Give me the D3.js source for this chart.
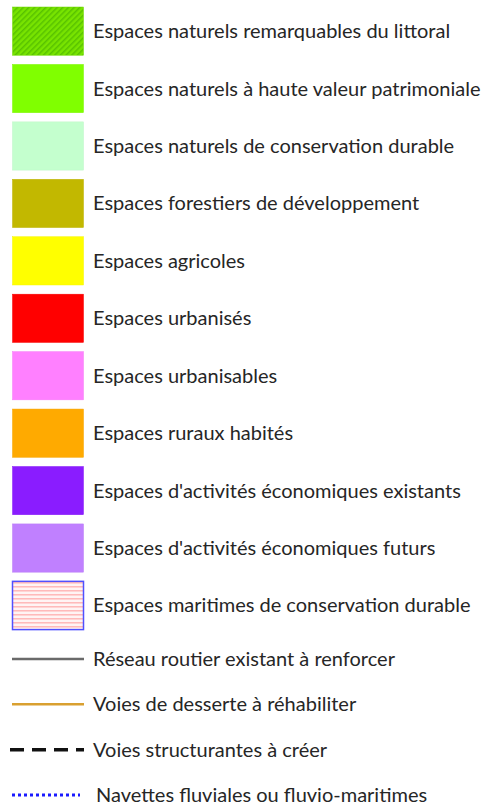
<!DOCTYPE html>
<html>
<head>
<meta charset="utf-8">
<script src="https://cdn.jsdelivr.net/npm/d3@7"></script>
<style>
  body { margin: 0; background: #fff; }
  text { font-family: Lato, "Open Sans", sans-serif; fill: #262626; }
</style>
</head>
<body>
<script>
var areaLabels = ['Espaces naturels remarquables du littoral','Espaces naturels à haute valeur patrimoniale','Espaces naturels de conservation durable','Espaces forestiers de développement','Espaces agricoles','Espaces urbanisés','Espaces urbanisables','Espaces ruraux habités',"Espaces d'activités économiques existants","Espaces d'activités économiques futurs",'Espaces maritimes de conservation durable'];
var areaFills = ['url(#hatchGreen)','#80ff00','#c4ffce','#c2b800','#ffff00','#ff0000','#ff80ff','#ffaa00','#8a1cff','#c080ff','url(#hatchSea)'];

var lineLabels = ['Réseau routier existant à renforcer','Voies de desserte à réhabiliter','Voies structurantes à créer','Navettes fluviales ou fluvio-maritimes'];
var lineColors = ['#6a6a6a','#d9a030','#111111','#1a1aff'];
var lineDashes = [null, null, '14,8', '3,3'];

const width = 493;
const height = 806;
const fontSize = 20;

const svg = d3.select("body").append("svg").attr("width", width).attr("height", height);

// patterns
const defs = svg.append("defs");
const pg = defs.append("pattern").attr("id","hatchGreen").attr("patternUnits","userSpaceOnUse")
    .attr("width",4).attr("height",4).attr("patternTransform","rotate(45)");
pg.append("rect").attr("width",4).attr("height",4).attr("fill","#78e400");
pg.append("rect").attr("width",1.5).attr("height",4).attr("fill","#58c200");

const ps = defs.append("pattern").attr("id","hatchSea").attr("patternUnits","userSpaceOnUse")
    .attr("width",8).attr("height",4);
ps.append("rect").attr("width",8).attr("height",4).attr("fill","#fff4f4");
ps.append("rect").attr("y",1).attr("width",8).attr("height",1).attr("fill","#ff9a9a");

// swatch rows
const y = d3.scaleBand()
    .domain(areaLabels)
    .range([7, 7 + 56.6 * areaLabels.length])
    .paddingInner(0.16)
    .paddingOuter(0)
    .align(0);

const rows = svg.append("g").attr("class","areas")
    .selectAll("g").data(areaLabels).join("g")
    .attr("transform", d => `translate(0, ${y(d)})`);

rows.append("rect")
    .attr("x", 12.5)
    .attr("width", 71)
    .attr("height", y.bandwidth())
    .attr("fill", (d, i) => areaFills[i])
    .attr("stroke", (d, i) => i === 10 ? "#5050ff" : d3.color(areaFills[i]) ? d3.color(areaFills[i]).darker(0.1) : "#70d800")
    .attr("stroke-width", (d, i) => i === 10 ? 1.5 : 0.5);

rows.append("text")
    .attr("x", 93)
    .attr("y", y.bandwidth() / 2)
    .attr("dy", "0.35em")
    .attr("font-size", fontSize)
    .text(d => d);

// line rows
const yl = d3.scalePoint()
    .domain(lineLabels)
    .range([659, 795]);

const lrows = svg.append("g").attr("class","lines")
    .selectAll("g").data(lineLabels).join("g")
    .attr("transform", d => `translate(0, ${yl(d)})`);

lrows.append("line")
    .attr("x1", (d, i) => i === 2 ? 10 : 12)
    .attr("x2", (d, i) => i === 3 ? 80 : 84)
    .attr("stroke", (d, i) => lineColors[i])
    .attr("stroke-width", (d, i) => i === 2 ? 3.5 : (i === 3 ? 3 : 2.5))
    .attr("stroke-dasharray", (d, i) => lineDashes[i]);

lrows.append("text")
    .attr("x", (d, i) => i === 3 ? 96 : 93)
    .attr("y", 0)
    .attr("dy", "0.35em")
    .attr("font-size", fontSize)
    .text(d => d);
</script>
</body>
</html>
